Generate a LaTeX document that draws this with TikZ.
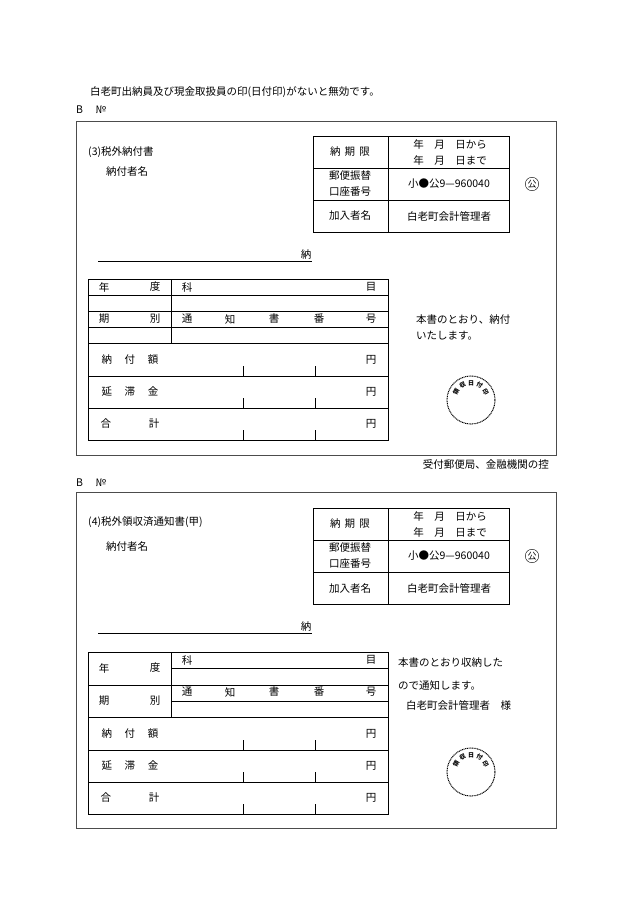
\documentclass[tikz,border=0pt]{standalone}
\usepackage{fontspec}
\setmainfont{Noto Sans CJK JP}
\usetikzlibrary{calc}
\begin{document}
\begin{tikzpicture}[x=1pt,y=-1pt,font=\fontsize{10.5}{12}\selectfont,
  ln/.style={line width=0.6pt},
  frame/.style={draw=black!70,line width=0.7pt},
  lbl/.style={inner sep=0pt,anchor=center}]
\useasboundingbox[fill=white] (0,0) rectangle (630,916);
\node[lbl,anchor=west] (warn) at (90,92) {白老町出納員及び現金取扱員の印(日付印)がないと無効です。};
\newcommand{\infotable}{%
  \draw[ln] (313,136) rectangle (509,232) (388,136)--(388,232)
    (313,168)--(509,168) (313,200)--(509,200);
  \node[lbl] at (350,152) {納\hspace{0.4em}期\hspace{0.4em}限};
  \node[lbl] at (450,144) {年\hspace{1em}月\hspace{1em}日から};
  \node[lbl] at (450,160) {年\hspace{1em}月\hspace{1em}日まで};
  \node[lbl] at (350,176) {郵便振替};
  \node[lbl] at (350,192) {口座番号};
  \node[lbl] at (449,184) {小●公9—960040};
  \node[lbl] at (350,216) {加入者名};
  \node[lbl] at (449,216) {白老町会計管理者};
  \node[draw,circle,inner sep=0.5pt,font=\fontsize{9}{10}\selectfont] at (532,184) {公};
  \draw[ln] (98,261)--(312,261);
  \node[lbl] at (306,255) {納};}
\newcommand{\stamp}[2]{%
  \draw[line width=1pt,dash pattern=on 1pt off 0.7pt] (#1,#2) circle (24);
  \foreach \a/\c in {150/領,120/収,90/日,60/付,30/印}
    \node[lbl,font=\fontsize{6}{6}\selectfont\bfseries,rotate=\a-90] at ($(#1,#2)+({17*cos(\a)},{-17*sin(\a)})$) {\c};}
\newcommand{\amounts}[1]{%
  \foreach \t [count=\i from 0] in {納\hspace{1.2em}付\hspace{1.2em}額,延\hspace{1.2em}滞\hspace{1.2em}金,合\hspace{3.6em}計}{
    \pgfmathsetmacro{\yy}{#1+\i*32}
    \node[lbl] at (130,\yy+16) {\t};
    \node[lbl] at (371,\yy+16) {円};
    \draw[ln] (243,\yy+22)--(243,\yy+32) (315,\yy+22)--(315,\yy+32);
    \draw[ln] (88,\yy+32)--(388,\yy+32);
  }}
% ===== form 1 =====
\node[lbl,anchor=west] (b1) at (76,110) {B\hspace{1.2em}№};
\draw[frame] (76,121) rectangle (556,455);
\node[lbl,anchor=west] (t1) at (88,152) {(3)税外納付書};
\node[lbl,anchor=west] at (106,172) {納付者名};
\infotable
\draw[ln] (88,279) rectangle (388,440) (171,279)--(171,343);
\foreach \y in {295,311,327,343} \draw[ln] (88,\y)--(388,\y);
\node[lbl] at (104,287) {年}; \node[lbl] at (155,287) {度};
\node[lbl] at (187,287) {科}; \node[lbl] at (371,287) {目};
\node[lbl] at (104,319) {期}; \node[lbl] at (155,319) {別};
\foreach \x/\c in {187/通,230/知,274/書,319/番,371/号} \node[lbl] at (\x,319) {\c};
\amounts{344}
\node[lbl,anchor=west] at (416,320) {本書のとおり、納付};
\node[lbl,anchor=west] at (416,336) {いたします。};
\stamp{471}{400}
\node[lbl,anchor=east] at (549,464) {受付郵便局、金融機関の控};
% ===== form 2 =====
\node[lbl,anchor=west] (b2) at (76,483) {B\hspace{1.2em}№};
\draw[frame] (76,492) rectangle (556,828);
\node[lbl,anchor=west] (t2) at (88,522) {(4)税外領収済通知書(甲)};
\node[lbl,anchor=west] at (106,546) {納付者名};
\begin{scope}[yshift=-372pt]
\infotable
\end{scope}
\draw[ln] (88,652) rectangle (388,814) (171,652)--(171,717);
\foreach \y in {685,717} \draw[ln] (88,\y)--(388,\y);
\foreach \y in {668,701} \draw[ln] (171,\y)--(388,\y);
\node[lbl] at (104,668) {年}; \node[lbl] at (155,668) {度};
\node[lbl] at (187,660) {科}; \node[lbl] at (371,660) {目};
\node[lbl] at (104,701) {期}; \node[lbl] at (155,701) {別};
\foreach \x/\c in {187/通,230/知,274/書,319/番,371/号} \node[lbl] at (\x,692) {\c};
\amounts{718}
\node[lbl,anchor=west] at (398,663) {本書のとおり収納した};
\node[lbl,anchor=west] at (398,685) {ので通知します。};
\node[lbl,anchor=west] at (406,705) {白老町会計管理者\hspace{1em}様};
\stamp{471}{772}
\end{tikzpicture}
\end{document}
